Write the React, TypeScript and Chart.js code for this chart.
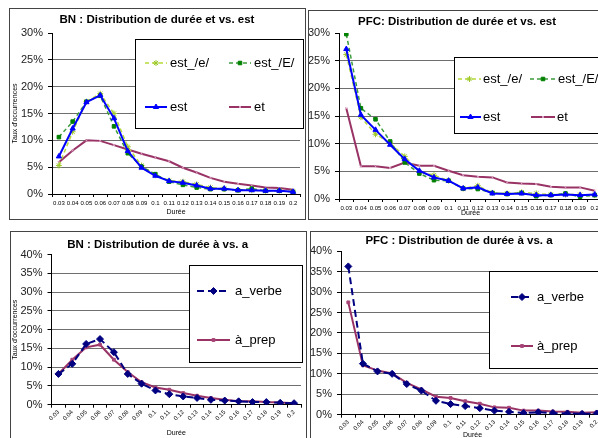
import React, { useEffect, useRef } from 'react';
import { Chart, registerables } from 'chart.js';
import { drawPoint } from 'chart.js/helpers';

Chart.register(...registerables);

const FONT = '"Liberation Sans", Arial, sans-serif';

// ---- Data (values in %) ----
const durees = ['0.03', '0.04', '0.05', '0.06', '0.07', '0.08', '0.09', '0.1', '0.11', '0.12', '0.13', '0.14', '0.15', '0.16', '0.17', '0.18', '0.19', '0.2'];
const yTicksEt = [0, 5, 10, 15, 20, 25, 30];
const yTicksA = [0, 5, 10, 15, 20, 25, 30, 35, 40];

const bnEstE1 = [5.3, 11.6, 17.2, 18.7, 15.0, 8.8, 5.3, 3.5, 2.5, 2.3, 1.8, 1.2, 1.0, 0.7, 0.7, 0.6, 0.6, 0.4];
const bnEstE2 = [10.6, 13.5, 17.2, 18.3, 12.6, 7.6, 5.1, 3.7, 2.3, 1.7, 1.2, 0.9, 0.9, 0.7, 1.0, 0.6, 0.6, 0.4];
const bnEst = [7.0, 12.2, 17.1, 18.4, 14.1, 8.0, 4.9, 3.4, 2.4, 2.1, 1.6, 1.0, 1.0, 0.7, 0.7, 0.6, 0.6, 0.4];
const bnEt = [5.9, 8.1, 10.0, 9.9, 9.1, 8.3, 7.5, 6.8, 6.1, 4.9, 4.0, 3.0, 2.3, 1.9, 1.6, 1.2, 1.1, 0.8];

const pfcEstE1 = [26.1, 14.8, 11.7, 10.1, 7.7, 4.9, 4.3, 3.3, 1.9, 2.4, 1.1, 1.0, 1.2, 1.0, 0.8, 0.8, 0.8, 0.7];
const pfcEstE2 = [29.8, 16.4, 14.4, 10.4, 6.6, 4.6, 3.4, 3.3, 1.9, 1.8, 1.1, 0.9, 1.1, 0.5, 0.7, 1.0, 0.4, 0.7];
const pfcEst = [27.1, 15.2, 12.5, 9.8, 7.2, 5.1, 3.9, 3.3, 1.9, 2.1, 1.0, 0.9, 1.0, 0.7, 0.7, 0.8, 0.7, 0.8];
const pfcEt = [16.4, 5.9, 5.9, 5.6, 6.6, 6.0, 6.0, 5.1, 4.3, 4.0, 3.9, 3.0, 2.8, 2.7, 2.2, 2.1, 2.1, 1.5];

const bnAVerbe = [8.2, 10.9, 16.2, 17.5, 14.0, 8.2, 5.6, 3.8, 2.8, 2.2, 1.8, 1.3, 1.1, 0.9, 0.7, 0.7, 0.5, 0.4];
const bnAPrep = [8.2, 12.0, 15.3, 16.0, 12.0, 8.7, 6.0, 4.6, 4.0, 3.1, 2.4, 1.8, 1.3, 0.9, 0.9, 0.7, 0.6, 0.4];
const pfcAVerbe = [36.3, 12.5, 10.6, 10.0, 7.5, 5.9, 3.4, 2.6, 2.1, 1.6, 1.0, 0.7, 0.4, 0.6, 0.4, 0.3, 0.2, 0.3];
const pfcAPrep = [27.5, 12.1, 10.8, 10.1, 7.8, 6.2, 4.4, 4.1, 3.3, 2.7, 1.8, 1.7, 1.0, 1.0, 0.8, 0.7, 0.5, 0.6];

// ---- Styles ----
const stEstE1 = { borderColor: '#B6DA3C', borderWidth: 1.5, borderDash: [4, 3], pointStyle: 'star', pointRadius: 3, pointBorderColor: '#9CC82A', pointBackgroundColor: '#9CC82A', pointBorderWidth: 1, order: 2 };
const stEstE2 = { borderColor: '#3C9C3C', borderWidth: 1.5, borderDash: [4, 3], pointStyle: 'rect', pointRadius: 2.5, pointBorderColor: '#008000', pointBackgroundColor: '#008000', pointBorderWidth: 1, order: 1 };
const stEst = { borderColor: '#0000FF', borderWidth: 2, borderDash: [], pointStyle: 'triangle', pointRadius: 3, pointBorderColor: '#0000FF', pointBackgroundColor: '#0000FF', pointBorderWidth: 1, order: 0 };
const stEt = { borderColor: '#993366', borderWidth: 2, borderDash: [], pointStyle: 'crossRot', pointRadius: 1.5, pointBorderColor: '#D8A0C0', pointBackgroundColor: '#D8A0C0', pointBorderWidth: 1, order: 3 };
const stAVerbe = { borderColor: '#000080', borderWidth: 2, borderDash: [7, 4], pointStyle: 'rectRot', pointRadius: 3.5, pointBorderColor: '#000080', pointBackgroundColor: '#000080', pointBorderWidth: 1, order: 0 };
const stAPrep = { borderColor: '#993366', borderWidth: 2, borderDash: [], pointStyle: 'rect', pointRadius: 2, pointBorderColor: '#A84477', pointBackgroundColor: '#A84477', pointBorderWidth: 1, order: 1 };

function makeLegend(spec: any) {
  return {
    id: 'boxLegend',
    afterDraw(chart: any) {
      const ctx = chart.ctx;
      const b = spec.box;
      ctx.save();
      ctx.fillStyle = '#fff';
      ctx.fillRect(b.x, b.y, b.w, b.h);
      ctx.strokeStyle = '#000';
      ctx.lineWidth = 1;
      ctx.strokeRect(b.x + 0.5, b.y + 0.5, b.w, b.h);
      ctx.font = `13px ${FONT}`;
      ctx.textBaseline = 'middle';
      ctx.textAlign = 'left';
      spec.items.forEach((it: any) => {
        const ds = chart.data.datasets[it.index];
        ctx.save();
        ctx.strokeStyle = ds.borderColor;
        ctx.lineWidth = ds.borderWidth;
        ctx.setLineDash(ds.borderDash || []);
        ctx.beginPath();
        ctx.moveTo(it.x1, it.y);
        ctx.lineTo(it.x2, it.y);
        ctx.stroke();
        ctx.setLineDash([]);
        ctx.fillStyle = ds.pointBackgroundColor;
        ctx.strokeStyle = ds.pointBorderColor;
        ctx.lineWidth = ds.pointBorderWidth;
        drawPoint(ctx, { pointStyle: ds.pointStyle, radius: ds.pointRadius, rotation: 0, borderWidth: ds.pointBorderWidth }, (it.x1 + it.x2) / 2, it.y);
        ctx.restore();
        ctx.fillStyle = '#000';
        ctx.fillText(ds.label, it.tx, it.y);
      });
      ctx.restore();
    },
  };
}

function buildConfig(p: any) {
  const titleLH = p.titleSize * 1.2;
  const padTop = p.titleCenter - titleLH / 2;
  const padBottom = p.area.t - padTop - titleLH;
  const yMax = p.yTicks[p.yTicks.length - 1];
  return {
    type: 'line',
    data: {
      labels: durees,
      datasets: p.datasets.map((d: any) => ({ ...d.style, label: d.label, data: d.data, tension: 0, fill: false })),
    },
    options: {
      animation: false,
      responsive: false,
      maintainAspectRatio: false,
      layout: { padding: { left: 0, top: 0, bottom: 0, right: p.cw - p.area.r } },
      plugins: {
        legend: { display: false },
        tooltip: { enabled: false },
        title: {
          display: true,
          text: p.title,
          color: '#000',
          font: { family: FONT, size: p.titleSize, weight: 'bold' },
          padding: { top: padTop, bottom: padBottom },
        },
      },
      scales: {
        x: {
          type: 'category',
          offset: true,
          grid: { display: true, drawOnChartArea: false, drawTicks: true, tickLength: 3, offset: true, tickColor: '#000' },
          border: { display: true, color: '#000', width: 1 },
          ticks: {
            autoSkip: false,
            minRotation: p.rot,
            maxRotation: p.rot,
            color: '#000',
            padding: p.rot ? 1 : 2.7,
            font: { family: FONT, size: 6 },
          },
          title: {
            display: true,
            text: 'Durée',
            color: '#000',
            font: { family: FONT, size: 7 },
            padding: { top: 0, bottom: p.xTitleOffset - 4.2 },
          },
          afterFit: (s: any) => { s.height = p.ch - p.area.b; },
        },
        y: {
          min: 0,
          max: yMax,
          afterBuildTicks: (s: any) => { s.ticks = p.yTicks.map((v: number) => ({ value: v })); },
          ticks: {
            color: '#222',
            padding: 5,
            font: { family: FONT, size: 11 },
            callback: (v: any) => v + '%',
          },
          grid: {
            color: (c: any) => (c.tick && c.tick.value === yMax ? 'rgba(0,0,0,0)' : '#6E6E6E'),
            tickColor: '#000',
            tickLength: 4,
            lineWidth: 1,
          },
          border: { display: true, color: '#000', width: 1 },
          title: {
            display: p.yTitle,
            text: "Taux d'occurrences",
            color: '#000',
            font: { family: FONT, size: 7 },
            padding: { top: Math.max(0, p.yTitleX - 4.2), bottom: 0 },
          },
          afterFit: (s: any) => { s.width = p.area.l; },
        },
      },
    },
    plugins: [makeLegend(p.legend)],
  };
}

const panels: any[] = [
  {
    key: 'tl', px: 9, py: 8, pw: 297, ph: 212, cw: 295, ch: 210,
    area: { l: 42, r: 294, t: 24, b: 185 }, titleCenter: 11, titleSize: 11.5,
    title: 'BN : Distribution de durée et vs. est', rot: 0, xTitleOffset: 7, yTitle: true, yTitleX: 5,
    yTicks: yTicksEt,
    datasets: [
      { label: 'est_/e/', data: bnEstE1, style: stEstE1 },
      { label: 'est_/E/', data: bnEstE2, style: stEstE2 },
      { label: 'est', data: bnEst, style: stEst },
      { label: 'et', data: bnEt, style: stEt },
    ],
    legend: {
      box: { x: 125, y: 30, w: 168, h: 89 },
      items: [
        { index: 0, x1: 135, x2: 157, y: 54, tx: 160 },
        { index: 1, x1: 219, x2: 241, y: 54, tx: 244 },
        { index: 2, x1: 135, x2: 157, y: 98, tx: 160 },
        { index: 3, x1: 219, x2: 241, y: 98, tx: 244 },
      ],
    },
  },
  {
    key: 'tr', px: 308, py: 10, pw: 300, ph: 210, cw: 298, ch: 208,
    area: { l: 30, r: 296, t: 22, b: 188 }, titleCenter: 11, titleSize: 11.5,
    title: 'PFC: Distribution de durée et vs. est', rot: 0, xTitleOffset: 6, yTitle: false, yTitleX: 0,
    yTicks: yTicksEt,
    datasets: [
      { label: 'est_/e/', data: pfcEstE1, style: stEstE1 },
      { label: 'est_/E/', data: pfcEstE2, style: stEstE2 },
      { label: 'est', data: pfcEst, style: stEst },
      { label: 'et', data: pfcEt, style: stEt },
    ],
    legend: {
      box: { x: 145, y: 46, w: 300, h: 76 },
      items: [
        { index: 0, x1: 149, x2: 172, y: 68, tx: 174 },
        { index: 1, x1: 221, x2: 247, y: 68, tx: 249 },
        { index: 2, x1: 151, x2: 172, y: 106, tx: 174 },
        { index: 3, x1: 222, x2: 246, y: 106, tx: 248 },
      ],
    },
  },
  {
    key: 'bl', px: 10, py: 231, pw: 297, ph: 212, cw: 295, ch: 210,
    area: { l: 40.5, r: 293.3, t: 22.7, b: 172.7 }, titleCenter: 13, titleSize: 11.5,
    title: 'BN : Distribution de durée à vs. a', rot: 45, xTitleOffset: 9, yTitle: true, yTitleX: 4,
    yTicks: yTicksA,
    datasets: [
      { label: 'a_verbe', data: bnAVerbe, style: stAVerbe },
      { label: 'à_prep', data: bnAPrep, style: stAPrep },
    ],
    legend: {
      box: { x: 178, y: 33, w: 113, h: 97 },
      items: [
        { index: 0, x1: 186, x2: 219, y: 59, tx: 224 },
        { index: 1, x1: 186, x2: 219, y: 108, tx: 224 },
      ],
    },
  },
  {
    key: 'br', px: 310, py: 231, pw: 300, ph: 212, cw: 298, ch: 210,
    area: { l: 30, r: 296, t: 19.3, b: 182.7 }, titleCenter: 9, titleSize: 11.5,
    title: 'PFC : Distribution de durée à vs. a', rot: 45, xTitleOffset: 7.3, yTitle: false, yTitleX: 0,
    yTicks: yTicksA,
    datasets: [
      { label: 'a_verbe', data: pfcAVerbe, style: stAVerbe },
      { label: 'à_prep', data: pfcAPrep, style: stAPrep },
    ],
    legend: {
      box: { x: 178, y: 39, w: 300, h: 97 },
      items: [
        { index: 0, x1: 200, x2: 222, y: 65, tx: 226 },
        { index: 1, x1: 200, x2: 222, y: 114, tx: 226 },
      ],
    },
  },
];

function ChartPanel({ p }: { p: any }) {
  const ref = useRef<HTMLCanvasElement>(null);
  useEffect(() => {
    const chart = new Chart(ref.current as HTMLCanvasElement, buildConfig(p) as any);
    return () => chart.destroy();
  }, [p]);
  return (
    <div
      style={{
        position: 'absolute',
        left: p.px,
        top: p.py,
        width: p.pw,
        height: p.ph,
        boxSizing: 'border-box',
        border: '1px solid #444',
        background: '#fff',
        overflow: 'hidden',
      }}
    >
      <canvas ref={ref} width={p.cw} height={p.ch} style={{ display: 'block', width: p.cw, height: p.ch }} />
    </div>
  );
}

export default function App() {
  return (
    <div style={{ position: 'fixed', left: 0, top: 0, width: 598, height: 438, overflow: 'hidden', background: '#fff' }}>
      {panels.map((p) => (
        <ChartPanel key={p.key} p={p} />
      ))}
    </div>
  );
}
